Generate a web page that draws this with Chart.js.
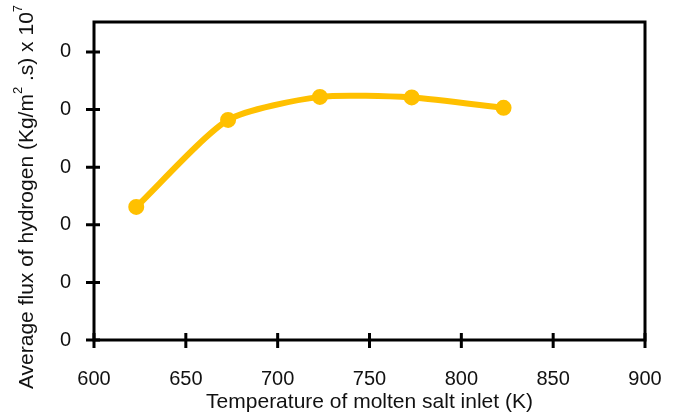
<!DOCTYPE html>
<html>
<head>
<meta charset="utf-8">
<script src="https://cdn.jsdelivr.net/npm/chart.js@4.4.1/dist/chart.umd.min.js"></script>
<style>
  html, body { margin:0; padding:0; background:#fff; }
  #wrap { width:683px; height:416px; }
</style>
</head>
<body>
<div id="wrap"><canvas id="chart" width="683" height="416"></canvas></div>
<script>
/* ======== DATA ======== */
const temps = [623, 673, 723, 773, 823];          // K
const flux  = [0.231, 0.382, 0.422, 0.421, 0.403]; // x 10^7 (labels shown rounded)
const xTicks = [600, 650, 700, 750, 800, 850, 900];
const yTicks = [0, 0.1, 0.2, 0.3, 0.4, 0.5];
const yTickLabels = ['0', '0', '0', '0', '0', '0'];
const xTitle = 'Temperature of molten salt inlet (K)';
const yTitleParts = [['Average flux of hydrogen (Kg/m', false], ['2', true], [' .s) x 10', false], ['7', true]];

const FONT = '"Liberation Sans", Arial, sans-serif';
const INK = '#111';

/* ======== FRAME: box + cross ticks + rotated y title ======== */
const frame = {
  id: 'frame',
  beforeDatasetsDraw(chart){
    const {ctx, chartArea:a, scales:{x, y}} = chart;
    ctx.save();
    ctx.strokeStyle = '#000';
    ctx.lineWidth = 3;
    ctx.strokeRect(a.left, a.top, a.right - a.left, a.bottom - a.top);
    ctx.beginPath();
    yTicks.forEach(v => {
      const py = y.getPixelForValue(v);
      ctx.moveTo(a.left - 8, py); ctx.lineTo(a.left + 6, py);
    });
    xTicks.forEach(v => {
      const px = x.getPixelForValue(v);
      ctx.moveTo(px, a.bottom - 7); ctx.lineTo(px, a.bottom + 8);
    });
    ctx.stroke();
    ctx.restore();
  },
  afterDraw(chart){
    const ctx = chart.ctx;
    ctx.save();
    ctx.translate(27, 197);
    ctx.rotate(-Math.PI / 2);
    ctx.fillStyle = INK;
    ctx.textBaseline = 'middle';
    ctx.textAlign = 'left';
    const fontFor = sup => (sup ? '13px ' : '21px ') + FONT;
    let total = 0;
    yTitleParts.forEach(([t, sup]) => { ctx.font = fontFor(sup); total += ctx.measureText(t).width; });
    let cx = -total / 2;
    yTitleParts.forEach(([t, sup]) => {
      ctx.font = fontFor(sup);
      ctx.fillText(t, cx, sup ? -9 : 0);
      cx += ctx.measureText(t).width;
    });
    ctx.restore();
  }
};

new Chart(document.getElementById('chart'), {
  type: 'line',
  data: {
    datasets: [{
      data: temps.map((t, i) => ({x: t, y: flux[i]})),
      borderColor: '#FFC000',
      backgroundColor: '#FFC000',
      borderWidth: 6,
      pointRadius: 7,
      pointBorderWidth: 2,
      pointBorderColor: '#FFC000',
      pointBackgroundColor: '#FFC000',
      tension: 0.22
    }]
  },
  options: {
    responsive: false,
    animation: false,
    layout: { padding: { top: 22, right: 38, left: 0, bottom: 0 } },
    plugins: { legend: { display: false }, tooltip: { enabled: false } },
    scales: {
      x: {
        type: 'linear', min: 600, max: 900,
        afterBuildTicks: s => { s.ticks = xTicks.map(v => ({value: v})); },
        afterFit: s => { s.height = 76; s.paddingLeft = 0; s.paddingRight = 0; },
        grid: { display: false, drawTicks: false },
        border: { display: false },
        ticks: { padding: 27, color: INK, font: { family: FONT, size: 20 }, maxRotation: 0 },
        title: { display: true, text: xTitle, color: INK, font: { family: FONT, size: 21 }, padding: { top: 0, bottom: 1 } }
      },
      y: {
        type: 'linear', min: 0, max: 0.552,
        afterBuildTicks: s => { s.ticks = yTicks.map(v => ({value: v})); },
        afterFit: s => { s.width = 94; s.paddingTop = 0; s.paddingBottom = 0; },
        grid: { display: false, drawTicks: false },
        border: { display: false },
        ticks: { padding: 23, color: INK, font: { family: FONT, size: 20 },
                 callback: (v, i) => yTickLabels[i] }
      }
    }
  },
  plugins: [frame]
});
</script>
</body>
</html>
